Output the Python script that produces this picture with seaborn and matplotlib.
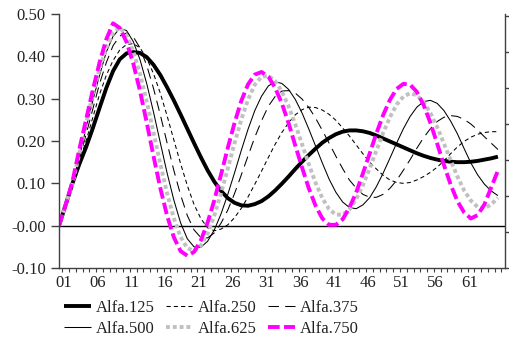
import numpy as np
import pandas as pd
import matplotlib
matplotlib.use("Agg")
import matplotlib.pyplot as plt
import matplotlib.transforms as mtransforms
from matplotlib.ticker import FixedLocator, NullFormatter
import seaborn as sns

# ---------------- data ----------------
x_labels = ["01", "06", "11", "16", "21", "26", "31", "36", "41", "46", "51", "56", "61"]
series_names = ["Alfa.125", "Alfa.250", "Alfa.375", "Alfa.500", "Alfa.625", "Alfa.750"]

alfa125 = [0, 0.05, 0.10, 0.145, 0.185, 0.23, 0.278, 0.325, 0.365, 0.393, 0.407, 0.41, 0.408, 0.398, 0.38,
           0.356, 0.327, 0.296, 0.263, 0.229, 0.195, 0.162, 0.131, 0.104, 0.082, 0.065, 0.054, 0.048, 0.047,
           0.051, 0.058, 0.069, 0.083, 0.099, 0.116, 0.134, 0.151, 0.167, 0.182, 0.196, 0.207, 0.216, 0.222,
           0.225, 0.225, 0.223, 0.219, 0.213, 0.206, 0.199, 0.192, 0.185, 0.178, 0.171, 0.165, 0.16, 0.156,
           0.153, 0.151, 0.15, 0.15, 0.151, 0.153, 0.156, 0.159, 0.163]
alfa250 = [0, 0.05, 0.10, 0.15, 0.20, 0.255, 0.31, 0.355, 0.39, 0.415, 0.428, 0.43, 0.42, 0.395, 0.359,
           0.313, 0.26, 0.203, 0.147, 0.095, 0.05, 0.017, -0.005, -0.012, -0.008, 0.002, 0.019, 0.041, 0.068,
           0.098, 0.129, 0.161, 0.192, 0.22, 0.243, 0.262, 0.274, 0.28, 0.279, 0.273, 0.263, 0.249, 0.231,
           0.212, 0.191, 0.17, 0.15, 0.134, 0.119, 0.108, 0.102, 0.1, 0.102, 0.108, 0.116, 0.126, 0.138,
           0.153, 0.17, 0.186, 0.199, 0.209, 0.216, 0.22, 0.222, 0.222]
alfa375 = [0, 0.05, 0.10, 0.155, 0.215, 0.275, 0.335, 0.385, 0.425, 0.448, 0.455, 0.446, 0.42, 0.378, 0.324,
           0.262, 0.196, 0.131, 0.073, 0.024, -0.01, -0.028, -0.029, -0.017, 0.006, 0.037, 0.076, 0.12, 0.165,
           0.209, 0.248, 0.282, 0.305, 0.318, 0.319, 0.313, 0.299, 0.279, 0.254, 0.225, 0.195, 0.164, 0.135,
           0.108, 0.089, 0.074, 0.067, 0.067, 0.074, 0.088, 0.107, 0.131, 0.156, 0.183, 0.208, 0.229, 0.246,
           0.256, 0.26, 0.258, 0.251, 0.24, 0.226, 0.21, 0.195, 0.18]
alfa500 = [0, 0.05, 0.10, 0.16, 0.23, 0.295, 0.355, 0.41, 0.447, 0.466, 0.461, 0.435, 0.392, 0.335, 0.268,
           0.196, 0.125, 0.061, 0.007, -0.031, -0.05, -0.051, -0.037, -0.01, 0.028, 0.074, 0.125, 0.178, 0.228,
           0.272, 0.306, 0.33, 0.34, 0.336, 0.322, 0.298, 0.266, 0.228, 0.188, 0.148, 0.11, 0.079, 0.056,
           0.043, 0.04, 0.049, 0.066, 0.092, 0.124, 0.159, 0.195, 0.229, 0.258, 0.28, 0.293, 0.296, 0.289,
           0.272, 0.247, 0.217, 0.182, 0.148, 0.12, 0.098, 0.082, 0.071]
alfa625 = [0, 0.05, 0.10, 0.17, 0.24, 0.31, 0.37, 0.42, 0.455, 0.468, 0.45, 0.412, 0.358, 0.293, 0.22,
           0.146, 0.077, 0.018, -0.027, -0.053, -0.06, -0.047, -0.019, 0.024, 0.077, 0.135, 0.195, 0.251, 0.298,
           0.333, 0.352, 0.354, 0.342, 0.317, 0.282, 0.239, 0.192, 0.145, 0.101, 0.065, 0.039, 0.026, 0.026,
           0.038, 0.062, 0.095, 0.135, 0.177, 0.219, 0.256, 0.286, 0.305, 0.313, 0.308, 0.292, 0.266, 0.233,
           0.194, 0.155, 0.116, 0.083, 0.059, 0.044, 0.041, 0.05, 0.066]
alfa750 = [0, 0.05, 0.105, 0.18, 0.25, 0.32, 0.385, 0.44, 0.478, 0.467, 0.434, 0.383, 0.318, 0.243, 0.164,
           0.089, 0.024, -0.027, -0.06, -0.071, -0.062, -0.035, 0.007, 0.06, 0.121, 0.184, 0.243, 0.295, 0.334,
           0.357, 0.363, 0.352, 0.326, 0.289, 0.242, 0.189, 0.137, 0.088, 0.047, 0.017, 0.002, 0.002, 0.015,
           0.042, 0.078, 0.123, 0.17, 0.218, 0.261, 0.297, 0.323, 0.335, 0.333, 0.316, 0.285, 0.243, 0.194,
           0.144, 0.097, 0.058, 0.031, 0.017, 0.025, 0.05, 0.09, 0.13]

y_ticks = [-0.10, 0.00, 0.10, 0.20, 0.30, 0.40, 0.50]
y_ticklabels = ["-0.10", "-0.00", "0.10", "0.20", "0.30", "0.40", "0.50"]

# ---------------- styling ----------------
sns.set_theme(style="white")
plt.rcParams["font.family"] = ["Liberation Serif", "DejaVu Serif"]
plt.rcParams["font.size"] = 12

W, H = 510, 338
fig = plt.figure(figsize=(W / 100, H / 100), dpi=100)
ax = fig.add_axes([59 / W, 1 - 268 / H, (505 - 59) / W, (268 - 14) / H])

day = np.arange(1, len(alfa125) + 1)
df = pd.DataFrame({"day": day, "Alfa.125": alfa125, "Alfa.250": alfa250, "Alfa.375": alfa375,
                   "Alfa.500": alfa500, "Alfa.625": alfa625, "Alfa.750": alfa750})

styles = {
    "Alfa.125": dict(color="black", lw=2.8, ls="-"),
    "Alfa.250": dict(color="black", lw=0.75, ls=(0, (4, 3))),
    "Alfa.375": dict(color="black", lw=0.75, ls=(0, (10, 6))),
    "Alfa.500": dict(color="black", lw=0.75, ls="-"),
    "Alfa.625": dict(color="#c0c0c0", lw=2.8, ls=(0, (1.0, 0.75))),
    "Alfa.750": dict(color="#ff00ff", lw=2.8, ls=(0, (3.0, 1.1))),
}

ax.axhline(0, color="black", lw=1.0, zorder=1.5)

handles = {}
for name in series_names:
    st = styles[name]
    sns.lineplot(data=df, x="day", y=name, ax=ax, color=st["color"], linewidth=st["lw"],
                 errorbar=None, legend=False, sort=False)
    ln = ax.lines[-1]
    ln.set_linestyle(st["ls"])
    ln.set_dash_capstyle("butt")
    ln.set_solid_capstyle("butt")
    ln.set_solid_joinstyle("round")
    ln.set_dash_joinstyle("round")
    handles[name] = ln

ax.set_xlim(day[0], day[-1] + 1.05)
ax.set_ylim(-0.10, 0.50)
ax.set_xlabel("")
ax.set_ylabel("")

# y axis
ax.yaxis.set_major_locator(FixedLocator(y_ticks))
ax.set_yticklabels(y_ticklabels)
ax.tick_params(axis="y", which="major", direction="out", length=5.5, width=1, color="#404040",
               pad=4, labelsize=12, labelcolor="#222222", left=True)

# x axis
tick_pos = [int(lbl) for lbl in x_labels]
ax.xaxis.set_major_locator(FixedLocator(tick_pos))
ax.set_xticklabels(x_labels)
ax.xaxis.set_minor_locator(FixedLocator(np.arange(day[0] + 0.5, day[-1] + 1.5, 1.0)))
ax.tick_params(axis="x", which="major", direction="out", length=0, pad=5, labelsize=12,
               labelcolor="#222222", bottom=True)
ax.tick_params(axis="x", which="minor", direction="out", length=3, width=0.8, color="#404040", bottom=True)
offset = mtransforms.ScaledTranslation(5.0 / 100, 0, fig.dpi_scale_trans)
for lbl in ax.get_xticklabels():
    lbl.set_transform(lbl.get_transform() + offset)

for side in ["left", "bottom"]:
    ax.spines[side].set_color("#404040")
    ax.spines[side].set_linewidth(1.0)
ax.spines["top"].set_visible(False)
ax.spines["right"].set_visible(False)

# secondary (unlabelled) right axis
ax2 = ax.twinx()
ax2.set_ylim(0, 7.06)
ax2.yaxis.set_major_locator(FixedLocator(np.arange(0, 8)))
ax2.yaxis.set_major_formatter(NullFormatter())
ax2.tick_params(axis="y", direction="out", length=4.5, width=1, color="#404040", right=True)
for side in ["left", "top", "bottom"]:
    ax2.spines[side].set_visible(False)
ax2.spines["right"].set_color("#404040")
ax2.spines["right"].set_linewidth(1.0)
ax2.grid(False)
ax.grid(False)

# legend (row-major order across 3 columns)
order = ["Alfa.125", "Alfa.500", "Alfa.250", "Alfa.625", "Alfa.375", "Alfa.750"]
fig.legend([handles[n] for n in order], order, loc="upper left", ncol=3,
           bbox_to_anchor=(64 / W, 1 - 300 / H), frameon=False, fontsize=12,
           handlelength=1.6, handletextpad=0.3, columnspacing=0.7, labelspacing=0.3,
           borderpad=0, borderaxespad=0, labelcolor="#222222")

fig.savefig("out.png", dpi=100)
